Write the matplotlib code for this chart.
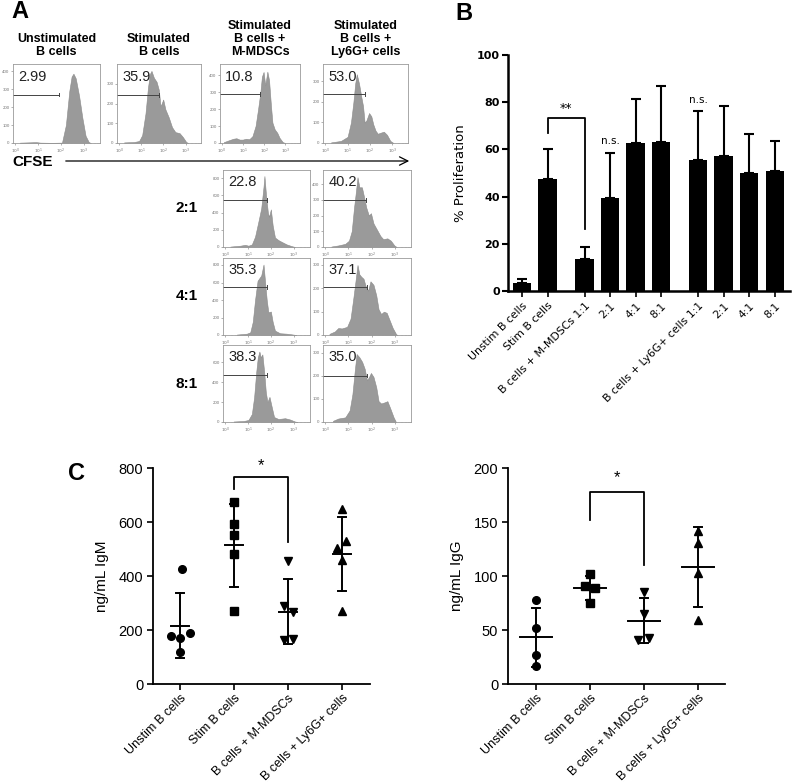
import numpy as np
import matplotlib
matplotlib.use("Agg")
import matplotlib.pyplot as plt

plt.rcParams['font.family'] = ['Liberation Sans', 'DejaVu Sans']

W, H = 792, 784

# ---------------- Panel A data (CFSE histograms: (log10 CFSE, count)) ----------------
hist_unstim = [(0.2, 2), (0.7, 4), (0.9, 5), (1.1, 2), (1.6, 1), (2.04, 2), (2.21, 100), (2.36, 290),
               (2.46, 370), (2.54, 386), (2.64, 360), (2.79, 260), (2.93, 140), (3.07, 40), (3.21, 5), (3.3, 0)]
hist_stim = [(0.22, 3), (0.67, 5), (0.9, 10), (1.04, 40), (1.19, 150), (1.3, 280), (1.39, 350), (1.46, 365),
             (1.57, 330), (1.69, 310), (1.79, 270), (1.87, 185), (1.99, 220), (2.09, 170), (2.24, 130),
             (2.39, 80), (2.54, 55), (2.73, 50), (2.88, 30), (3.03, 5), (3.12, 0)]
hist_mmdsc = [(0.08, 5), (0.3, 15), (0.53, 25), (0.68, 28), (0.83, 20), (0.98, 20), (1.14, 25), (1.29, 22),
              (1.44, 40), (1.59, 100), (1.71, 200), (1.82, 300), (1.89, 390), (1.97, 418), (2.05, 340),
              (2.15, 420), (2.23, 370), (2.32, 220), (2.39, 120), (2.5, 80), (2.62, 60), (2.73, 30),
              (2.88, 5), (3.0, 0)]
hist_ly6g = [(0.26, 3), (0.7, 10), (1.0, 30), (1.15, 100), (1.26, 200), (1.34, 290), (1.41, 335), (1.51, 290),
             (1.62, 220), (1.69, 180), (1.76, 100), (1.84, 110), (1.96, 146), (2.06, 130), (2.15, 90),
             (2.25, 60), (2.35, 45), (2.47, 50), (2.62, 55), (2.76, 40), (2.91, 10), (3.05, 0)]
hist_m21 = [(0.22, 5), (0.65, 15), (0.87, 25), (1.01, 15), (1.16, 30), (1.3, 120), (1.45, 300), (1.57, 450),
            (1.67, 700), (1.71, 825), (1.78, 600), (1.86, 400), (1.91, 350), (1.99, 437), (2.07, 250),
            (2.17, 110), (2.32, 80), (2.46, 60), (2.68, 30), (2.9, 10), (3.05, 0)]
hist_l21 = [(0.26, 3), (0.56, 10), (0.86, 20), (1.02, 40), (1.14, 100), (1.24, 250), (1.32, 350), (1.39, 444),
            (1.47, 380), (1.58, 380), (1.67, 320), (1.77, 250), (1.88, 200), (1.97, 215), (2.08, 150),
            (2.23, 110), (2.38, 70), (2.5, 50), (2.68, 55), (2.83, 40), (2.98, 10), (3.08, 0)]
hist_m41 = [(0.5, 5), (0.94, 15), (1.09, 30), (1.2, 150), (1.3, 400), (1.41, 620), (1.49, 650), (1.57, 680),
            (1.67, 805), (1.74, 600), (1.81, 400), (1.88, 260), (1.99, 268), (2.07, 150), (2.17, 50),
            (2.39, 20), (2.68, 15), (2.97, 5), (3.1, 0)]
hist_l41 = [(0.18, 5), (0.41, 15), (0.56, 30), (0.71, 28), (0.94, 35), (1.09, 70), (1.2, 150), (1.29, 220),
            (1.39, 300), (1.47, 260), (1.55, 250), (1.65, 241), (1.74, 210), (1.85, 190), (1.95, 230),
            (2.08, 215), (2.2, 170), (2.3, 110), (2.41, 90), (2.53, 100), (2.65, 95), (2.77, 65),
            (2.91, 30), (3.06, 3), (3.12, 0)]
hist_m81 = [(0.36, 5), (0.8, 10), (1.01, 20), (1.16, 80), (1.26, 250), (1.35, 500), (1.42, 650), (1.49, 709),
            (1.55, 650), (1.62, 680), (1.7, 500), (1.77, 300), (1.84, 200), (1.93, 253), (2.03, 150),
            (2.13, 50), (2.32, 30), (2.61, 38), (2.83, 25), (3.04, 5), (3.15, 0)]
hist_l81 = [(0.33, 5), (0.56, 15), (0.86, 20), (1.05, 50), (1.17, 120), (1.27, 220), (1.35, 294), (1.47, 280),
            (1.59, 260), (1.7, 230), (1.8, 180), (1.89, 195), (1.97, 212), (2.08, 195), (2.2, 150),
            (2.3, 90), (2.41, 80), (2.56, 85), (2.68, 90), (2.8, 60), (2.95, 20), (3.05, 0)]

gate_values = ["2.99", "35.9", "10.8", "53.0", "22.8", "40.2", "35.3", "37.1", "38.3", "35.0"]
gate_levels = [270, 245, 286, 237, 550, 300, 548, 204, 473, 201]
gate_ends = [1.93, 1.82, 1.82, 1.78, 1.81, 1.77, 1.84, 1.8, 1.81, 1.78]
hist_ymax = [440, 400, 465, 385, 895, 490, 880, 330, 775, 333]
hist_ystep = [100, 100, 100, 100, 200, 100, 200, 100, 200, 100]
col_titles = ["Unstimulated\nB cells", "Stimulated\nB cells", "Stimulated\nB cells +\nM-MDSCs",
              "Stimulated\nB cells +\nLy6G+ cells"]
ratio_labels = ["2:1", "4:1", "8:1"]

# ---------------- Panel B data ----------------
b_labels = ["Unstim B cells", "Stim B cells", "B cells + M-MDSCs 1:1", "2:1", "4:1", "8:1",
            "B cells + Ly6G+ cells 1:1", "2:1", "4:1", "8:1"]
b_means = [3.2, 47.5, 13.6, 39.4, 62.6, 63.0, 55.5, 57.0, 50.1, 50.7]
b_sd = [1.7, 12.5, 4.9, 19.1, 18.6, 24.0, 20.6, 21.4, 16.4, 12.7]

# ---------------- Panel C data ----------------
c_groups = ["Unstim B cells", "Stim B cells", "B cells + M-MDSCs", "B cells + Ly6G+ cells"]
igm_unstim = [425, 179, 169, 190, 117]
igm_stim = [674, 592, 551, 483, 270]
igm_mmdsc = [456, 290, 267, 163, 165]
igm_ly6g = [650, 530, 502, 459, 271]
igg_unstim = [77.7, 52, 26.8, 17]
igg_stim = [102, 91, 88.5, 74.6]
igg_mmdsc = [85, 65, 40.7, 43]
igg_ly6g = [141.8, 130.7, 103, 59]

igm_jitter = [[0.03, -0.17, 0.0, 0.19, 0.0], [0, 0, 0, 0, 0], [0.0, -0.07, 0.09, -0.07, 0.09],
              [0.0, 0.08, -0.09, 0.0, 0.0]]
igg_jitter = [[0, 0, 0, 0], [0.0, -0.1, 0.09, 0.0], [0.0, 0.0, -0.12, 0.09], [0, 0, 0, 0]]


def rect(left, top, width, height):
    return [left / W, 1 - (top + height) / H, width / W, height / H]


fig = plt.figure(figsize=(W / 100, H / 100), dpi=100)

# ---------------- Panel A ----------------
hists = [hist_unstim, hist_stim, hist_mmdsc, hist_ly6g, hist_m21, hist_l21, hist_m41, hist_l41, hist_m81, hist_l81]
boxes = [(13, 64, 87, 79), (117, 64, 84, 79), (220, 64, 80, 79), (323, 64, 85, 79),
         (223, 170, 87, 77), (323, 170, 88, 77),
         (223, 258, 87, 77), (323, 258, 88, 77),
         (223, 345, 87, 77), (323, 345, 88, 77)]

for i, (h, box) in enumerate(zip(hists, boxes)):
    ax = fig.add_axes(rect(*box))
    lx = np.array([p[0] for p in h])
    cnt = np.array([p[1] for p in h])
    ax.fill_between(10 ** lx, cnt, 0, color='#9a9a9a', edgecolor='#8a8a8a', lw=0.4)
    ax.set_xscale('log')
    ax.set_xlim(10 ** -0.1, 10 ** 3.7)
    ax.set_ylim(0, hist_ymax[i])
    ax.set_xticks([1, 10, 100, 1000])
    ax.set_xticklabels([r'$10^0$', r'$10^1$', r'$10^2$', r'$10^3$'])
    ax.set_yticks(np.arange(0, hist_ymax[i], hist_ystep[i]))
    ax.tick_params(axis='both', labelsize=3.2, length=1.5, width=0.4, pad=1, colors='#777777')
    ax.tick_params(axis='x', which='minor', length=1.0, width=0.3, colors='#999999')
    for s in ax.spines.values():
        s.set_color('#9a9a9a')
        s.set_linewidth(0.6)
    # gate
    gy = gate_levels[i]
    x0 = 10 ** -0.1
    x1 = 10 ** gate_ends[i]
    ax.plot([x0, x1], [gy, gy], color='#444444', lw=0.7)
    ax.plot([x1, x1], [gy - hist_ymax[i] * 0.025, gy + hist_ymax[i] * 0.025], color='#444444', lw=0.7)
    ax.text(0.06, 0.93, gate_values[i], transform=ax.transAxes, ha='left', va='top', fontsize=10.5,
            color='#222222')

for j, t in enumerate(col_titles):
    cx = boxes[j][0] + boxes[j][2] / 2
    ax_top = boxes[j][1]
    fig.text(cx / W, 1 - (ax_top - 6) / H, t, ha='center', va='bottom', fontsize=9,
             fontweight='bold', linespacing=1.1)

for k, r in enumerate(ratio_labels):
    b = boxes[4 + 2 * k]
    fig.text(187 / W, 1 - (b[1] + b[3] / 2) / H, r, ha='center', va='center', fontsize=11, fontweight='bold')

fig.text(12 / W, 1 - 162 / H, "CFSE", ha='left', va='center', fontsize=11, fontweight='bold')
fig.add_artist(matplotlib.patches.FancyArrowPatch((63 / W, 1 - 161 / H), (412 / W, 1 - 161 / H),
                                                  transform=fig.transFigure,
                                                  arrowstyle='->,head_length=6,head_width=3',
                                                  color='black', lw=0.9))
fig.text(11 / W, 1 - 12 / H, "A", ha='left', va='center', fontsize=17, fontweight='bold')

# ---------------- Panel B ----------------
axb = fig.add_axes(rect(508, 55, 282, 236))
bpos = [0, 1, 2.45, 3.45, 4.45, 5.45, 6.9, 7.9, 8.9, 9.9]
axb.bar(bpos, b_means, width=0.72, color='black', zorder=2)
axb.errorbar(bpos, b_means, yerr=[np.zeros(len(b_sd)), b_sd], fmt='none', ecolor='black',
             elinewidth=1.5, capsize=3.5, capthick=1.5, zorder=1)
axb.set_xlim(-0.55, 10.5)
axb.set_ylim(0, 100)
axb.set_yticks([0, 20, 40, 60, 80, 100])
axb.set_xticks(bpos)
axb.set_xticklabels(b_labels, rotation=45, ha='right', rotation_mode='anchor', fontsize=7.8,
                    family='DejaVu Sans')
for lab in axb.get_yticklabels():
    lab.set_fontweight('bold')
    lab.set_family('DejaVu Sans')
axb.tick_params(axis='y', labelsize=8, width=1.5, length=4, pad=2)
axb.tick_params(axis='x', width=1.2, length=4, pad=3)
axb.spines['top'].set_visible(False)
axb.spines['right'].set_visible(False)
axb.spines['left'].set_linewidth(1.8)
axb.spines['bottom'].set_linewidth(1.8)
axb.set_ylabel("% Proliferation", fontsize=9.5, labelpad=7, family='DejaVu Sans')
axb.plot([1, 1, 2.45, 2.45], [66.8, 73.5, 73.5, 26.1], color='black', lw=1.3)
axb.text(1.72, 74.5, "**", ha='center', va='bottom', fontsize=9, family='DejaVu Sans')
axb.text(bpos[3], 61.5, "n.s.", ha='center', va='bottom', fontsize=7.5, family='DejaVu Sans')
axb.text(bpos[6], 79, "n.s.", ha='center', va='bottom', fontsize=7.5, family='DejaVu Sans')
fig.text(455 / W, 1 - 14 / H, "B", ha='left', va='center', fontsize=17, fontweight='bold')

# ---------------- Panel C ----------------
markers = ['o', 's', 'v', '^']


def scatter_panel(ax, groups, jitter, ymax, yticks, ylabel, half_mean, bracket, star_y):
    for g, (vals, jit) in enumerate(zip(groups, jitter)):
        x = g + 1
        vals = np.array(vals, dtype=float)
        ax.plot(x + np.array(jit), vals, linestyle='none', marker=markers[g], color='black',
                markersize=5.5, zorder=3, clip_on=False)
        m = vals.mean()
        sd = vals.std(ddof=1)
        ax.plot([x - half_mean, x + half_mean], [m, m], color='black', lw=1.4, zorder=2)
        ax.plot([x, x], [m - sd, m + sd], color='black', lw=1.4, zorder=2)
        for yy in (m - sd, m + sd):
            ax.plot([x - 0.08, x + 0.08], [yy, yy], color='black', lw=1.4, zorder=2)
    ax.set_ylim(0, ymax)
    ax.set_yticks(yticks)
    ax.set_xticks([1, 2, 3, 4])
    ax.set_xticklabels(c_groups, rotation=45, ha='right', rotation_mode='anchor', fontsize=9)
    ax.tick_params(axis='y', labelsize=10.5, width=1.2, length=4, pad=3)
    ax.tick_params(axis='x', width=1.2, length=4, pad=2)
    ax.spines['top'].set_visible(False)
    ax.spines['right'].set_visible(False)
    ax.spines['left'].set_linewidth(1.3)
    ax.spines['bottom'].set_linewidth(1.3)
    ax.set_ylabel(ylabel, fontsize=11, labelpad=7)
    ax.plot([2, 2, 3, 3], bracket, color='black', lw=1.3, clip_on=False)
    ax.text(2.5, star_y, "*", ha='center', va='center', fontsize=12, clip_on=False)


axc1 = fig.add_axes(rect(153, 468, 217, 216))
axc1.set_xlim(0.5, 4.52)
scatter_panel(axc1, [igm_unstim, igm_stim, igm_mmdsc, igm_ly6g], igm_jitter, 800,
              [0, 200, 400, 600, 800], "ng/mL IgM", 0.17, [724, 767, 767, 526], 808)

axc2 = fig.add_axes(rect(508, 468, 217, 216))
axc2.set_xlim(0.48, 4.5)
scatter_panel(axc2, [igg_unstim, igg_stim, igg_mmdsc, igg_ly6g], igg_jitter, 200,
              [0, 50, 100, 150, 200], "ng/mL IgG", 0.3, [151.6, 177.8, 177.8, 110], 191)

fig.text(68 / W, 1 - 473 / H, "C", ha='left', va='center', fontsize=17, fontweight='bold')

fig.savefig("out.png", dpi=100)
